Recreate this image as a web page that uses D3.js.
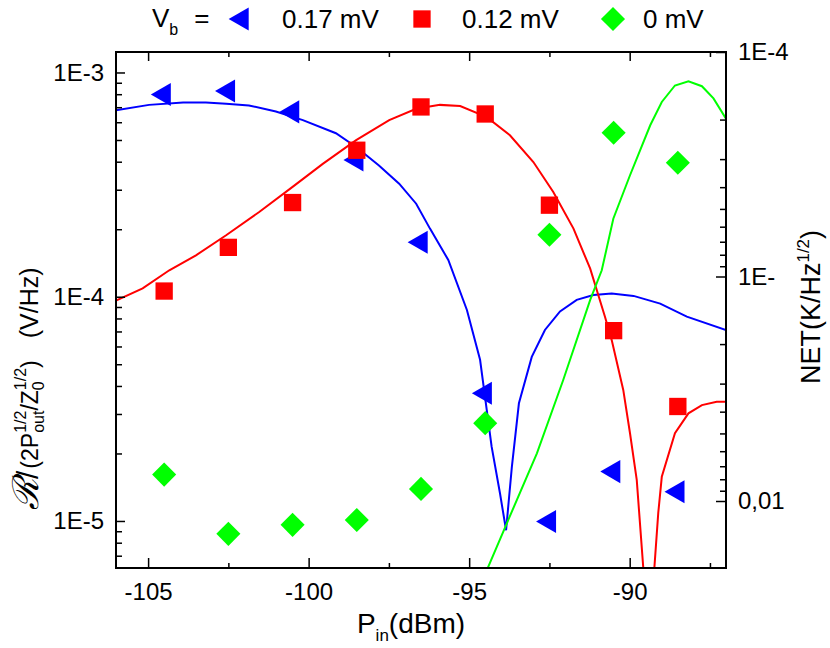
<!DOCTYPE html>
<html>
<head>
<meta charset="utf-8">
<script src="https://cdn.jsdelivr.net/npm/d3@7"></script>
<style>
body { margin: 0; background: #fff; }
svg text { font-family: "Liberation Sans", Arial, sans-serif; fill: #000; }
</style>
</head>
<body>
<svg></svg>
<script>
// measured points (responsivity, left axis)
const pinPoints = [-104.5, -102.5, -100.5, -98.5, -96.5, -94.5, -92.5, -90.5, -88.5];
const resp017 = [7.98e-4, 8.27e-4, 6.67e-4, 4.07e-4, 1.75e-4, 3.71e-5, 9.94e-6, 1.66e-5, 1.35e-5];
const resp012 = [1.06e-4, 1.66e-4, 2.63e-4, 4.50e-4, 7.02e-4, 6.53e-4, 2.56e-4, 7.06e-5, 3.24e-5];
const resp0 = [1.61e-5, 8.76e-6, 9.61e-6, 1.01e-5, 1.39e-5, 2.73e-5, 1.89e-4, 5.39e-4, 3.96e-4];

// NET curves (right axis)
const net017Pin = [-106, -104.97, -103.91, -103.2, -102.57, -101.86, -101.02, -100.18, -99.15, -98.52, -97.81, -97.18, -96.65, -96.22, -95.65, -95.07, -94.66, -94.3, -94.04, -93.85, -93.67, -93.45, -93.05, -92.64, -92.17, -91.65, -91.13, -90.56, -89.88, -89.05, -88.22, -87];
const net017 = [1.82e-4, 1.72e-4, 1.68e-4, 1.68e-4, 1.70e-4, 1.73e-4, 1.84e-4, 2.01e-4, 2.30e-4, 2.65e-4, 3.20e-4, 3.86e-4, 4.74e-4, 6.12e-4, 8.44e-4, 1.41e-3, 2.35e-3, 5.73e-3, 9.24e-3, 1.35e-2, 7.04e-3, 3.67e-3, 2.28e-3, 1.73e-3, 1.43e-3, 1.27e-3, 1.21e-3, 1.19e-3, 1.22e-3, 1.32e-3, 1.51e-3, 1.73e-3];

const net012Pin = [-106, -105.17, -104.34, -103.51, -102.57, -101.54, -100.5, -99.56, -98.52, -97.49, -96.65, -95.91, -95.28, -94.45, -93.73, -93.0, -92.38, -91.75, -91.23, -90.77, -90.56, -90.2, -89.99, -89.78, -89.4, -89.11, -89.0, -88.59, -88.17, -87.75, -87.29, -87];
const net012 = [1.28e-3, 1.13e-3, 9.38e-4, 8.05e-4, 6.55e-4, 5.16e-4, 3.99e-4, 3.15e-4, 2.47e-4, 2.01e-4, 1.79e-4, 1.72e-4, 1.74e-4, 1.95e-4, 2.35e-4, 3.09e-4, 4.20e-4, 6.12e-4, 9.23e-4, 1.51e-3, 1.92e-3, 3.20e-3, 4.99e-3, 8.06e-3, 4.34e-2, 1.13e-2, 7.80e-3, 4.99e-3, 4.07e-3, 3.74e-3, 3.61e-3, 3.61e-3];

const net0Pin = [-94.57, -93.83, -92.89, -92.07, -91.23, -90.87, -90.51, -89.99, -89.36, -89.0, -88.59, -88.17, -87.75, -87.39, -87];
const net0 = [2.23e-2, 1.26e-2, 6.13e-3, 2.89e-3, 1.27e-3, 9.38e-4, 5.53e-4, 3.54e-4, 2.12e-4, 1.67e-4, 1.41e-4, 1.35e-4, 1.42e-4, 1.61e-4, 1.98e-4];

// ticks
const xMajor = [-105, -100, -95, -90];
const xMinor = [-102.5, -97.5, -92.5, -87.5];
const xTickLabels = ["-105", "-100", "-95", "-90"];
const leftMajor = [1e-3, 1e-4, 1e-5];
const leftTickLabels = ["1E-3", "1E-4", "1E-5"];
const rightMajor = [1e-4, 1e-3, 1e-2];
const rightTickLabels = ["1E-4", "1E-", "0,01"];
const legendLabels = ["0.17 mV", "0.12 mV", "0 mV"];
const colors = ["#0000ff", "#ff0000", "#00ff00"];

const width = 830, height = 648;
const margin = { left: 116, right: 104, top: 52, bottom: 80 };

const svg = d3.select("svg").attr("width", width).attr("height", height);

const x = d3.scaleLinear().domain([-106, -87]).range([margin.left, width - margin.right]);
const yL = d3.scaleLog().domain([6.17e-6, 1.234e-3]).range([height - margin.bottom, margin.top]);
const yR = d3.scaleLog().domain([1e-4, 1.988e-2]).range([margin.top, height - margin.bottom]);

function minorOf(scale) {
  const [a, b] = d3.extent(scale.domain());
  const out = [];
  for (let e = -7; e <= 0; e++) {
    for (let m = 2; m <= 9; m++) {
      const v = m * Math.pow(10, e);
      if (v > a && v < b) out.push(v);
    }
  }
  return out;
}

svg.append("defs").append("clipPath").attr("id", "plot")
  .append("rect")
  .attr("x", margin.left).attr("y", margin.top)
  .attr("width", width - margin.left - margin.right)
  .attr("height", height - margin.top - margin.bottom);

// curves
const line = d3.line().x(d => x(d[0])).y(d => yR(d[1]));
const curves = [
  d3.zip(net017Pin, net017),
  d3.zip(net012Pin, net012),
  d3.zip(net0Pin, net0)
];
svg.append("g").attr("clip-path", "url(#plot)")
  .selectAll("path")
  .data(curves)
  .join("path")
  .attr("d", line)
  .attr("fill", "none")
  .attr("stroke", (d, i) => colors[i])
  .attr("stroke-width", 2);

// markers
const symbols = [
  { type: d3.symbolTriangle, size: 231, rot: -90 },
  { type: d3.symbolSquare, size: 300, rot: 0 },
  { type: d3.symbolSquare, size: 290, rot: 45 }
];
const series = [resp017, resp012, resp0];
series.forEach((vals, i) => {
  const s = symbols[i];
  svg.append("g")
    .selectAll("path")
    .data(vals)
    .join("path")
    .attr("d", d3.symbol().type(s.type).size(s.size))
    .attr("transform", (d, j) => `translate(${x(pinPoints[j])},${yL(d)}) rotate(${s.rot})`)
    .attr("fill", colors[i]);
});

// axes
const fontSize = 24;
const bottom = height - margin.bottom;
const right = width - margin.right;

svg.append("g").attr("transform", `translate(0,${bottom})`)
  .call(d3.axisBottom(x).tickValues(xMajor).tickFormat((d, i) => xTickLabels[i])
    .tickSizeInner(-10).tickSizeOuter(0).tickPadding(15));
svg.append("g").attr("transform", `translate(0,${bottom})`)
  .call(d3.axisBottom(x).tickValues(xMinor).tickFormat("").tickSizeInner(-5).tickSizeOuter(0));
svg.append("g").attr("transform", `translate(0,${margin.top})`)
  .call(d3.axisTop(x).tickValues(xMajor).tickFormat("").tickSizeInner(-9).tickSizeOuter(0));
svg.append("g").attr("transform", `translate(0,${margin.top})`)
  .call(d3.axisTop(x).tickValues(xMinor).tickFormat("").tickSizeInner(-5).tickSizeOuter(0));

svg.append("g").attr("transform", `translate(${margin.left},0)`)
  .call(d3.axisLeft(yL).tickValues(leftMajor).tickFormat((d, i) => leftTickLabels[i])
    .tickSizeInner(-9).tickSizeOuter(0).tickPadding(12));
svg.append("g").attr("transform", `translate(${margin.left},0)`)
  .call(d3.axisLeft(yL).tickValues(minorOf(yL)).tickFormat("").tickSizeInner(-6).tickSizeOuter(0));

svg.append("g").attr("transform", `translate(${right},0)`)
  .call(d3.axisRight(yR).tickValues(rightMajor).tickFormat((d, i) => rightTickLabels[i])
    .tickSizeInner(-10).tickSizeOuter(0).tickPadding(12));
svg.append("g").attr("transform", `translate(${right},0)`)
  .call(d3.axisRight(yR).tickValues(minorOf(yR)).tickFormat("").tickSizeInner(-6).tickSizeOuter(0));

svg.selectAll(".domain").remove();
svg.selectAll(".tick line").attr("stroke", "#000").attr("stroke-width", 1.5);
svg.selectAll(".tick text").attr("font-size", fontSize).attr("font-family", null);

// frame
svg.append("rect")
  .attr("x", margin.left).attr("y", margin.top)
  .attr("width", right - margin.left).attr("height", bottom - margin.top)
  .attr("fill", "none").attr("stroke", "#000").attr("stroke-width", 2);

// x title
const xt = svg.append("text").attr("x", 411).attr("y", 633)
  .attr("text-anchor", "middle").attr("font-size", 28);
xt.append("tspan").text("P");
xt.append("tspan").attr("font-size", 17).attr("dy", 8).text("in");
xt.append("tspan").attr("dy", -8).text("(dBm)");

// left title
const lt = svg.append("text").attr("transform", "translate(38,510) rotate(-90)")
  .attr("font-size", 25);
lt.append("tspan").attr("font-size", 36).attr("font-family", "DejaVu Serif").attr("font-style", "italic").text("\u211B");
lt.append("tspan").attr("font-size", 30).text("/");
lt.append("tspan").attr("font-size", 23).attr("dx", 2).text("(2P");
const out = lt.append("tspan").attr("font-size", 16).attr("dy", 6).text("out");
const outW = out.node().getComputedTextLength();
lt.append("tspan").attr("font-size", 16).attr("dx", -outW).attr("dy", -18).text("1/2");
lt.append("tspan").attr("font-size", 23).attr("dy", 12).text("/Z");
const z0 = lt.append("tspan").attr("font-size", 16).attr("dy", 6).text("0");
const z0W = z0.node().getComputedTextLength();
lt.append("tspan").attr("font-size", 16).attr("dx", -z0W).attr("dy", -18).text("1/2");
lt.append("tspan").attr("font-size", 23).attr("dy", 12).text(")");
lt.append("tspan").attr("dx", 22).text("(V/Hz)");

// right title
const rt = svg.append("text").attr("transform", "translate(820,307) rotate(-90)")
  .attr("text-anchor", "middle").attr("font-size", 27);
rt.append("tspan").text("NET(K/Hz");
rt.append("tspan").attr("font-size", 17).attr("dy", -11).text("1/2");
rt.append("tspan").attr("dy", 11).text(")");

// legend
const lg = svg.append("g");
const vb = lg.append("text").attr("x", 152).attr("y", 27).attr("font-size", 26);
vb.append("tspan").text("V");
vb.append("tspan").attr("font-size", 16).attr("dy", 8).text("b");
vb.append("tspan").attr("dy", -8).attr("dx", 16).text("=");

const legX = [242, 422, 613];
const legTextX = [282, 462, 643];
legendLabels.forEach((lab, i) => {
  const s = symbols[i];
  lg.append("path")
    .attr("d", d3.symbol().type(s.type).size(s.size))
    .attr("transform", `translate(${legX[i]},19) rotate(${s.rot})`)
    .attr("fill", colors[i]);
  lg.append("text").attr("x", legTextX[i]).attr("y", 28).attr("font-size", 26).text(lab);
});
</script>
</body>
</html>
